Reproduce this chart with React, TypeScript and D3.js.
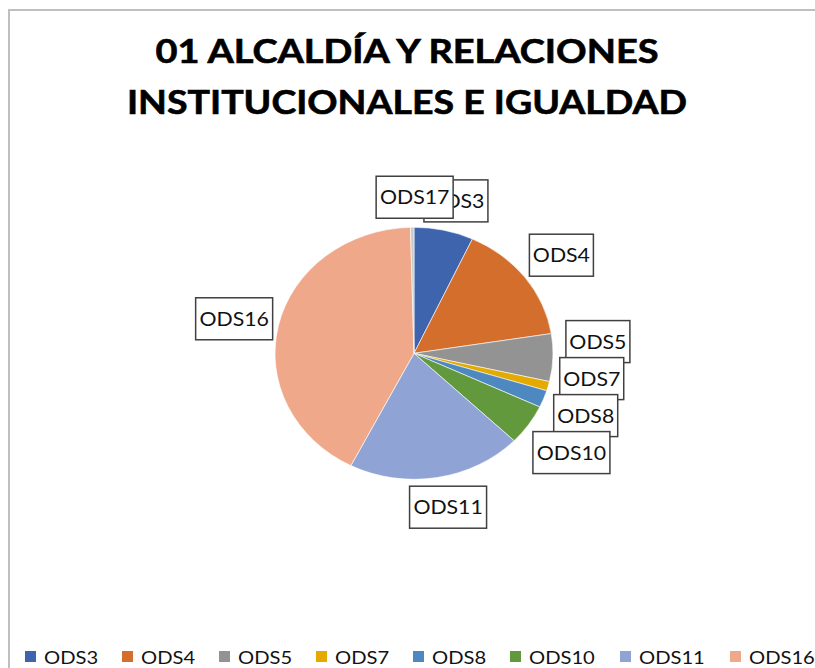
import * as d3 from 'd3';

const categories = ['ODS3', 'ODS4', 'ODS5', 'ODS7', 'ODS8', 'ODS10', 'ODS11', 'ODS16', 'ODS17'];
const shares = [6.9, 15.6, 6.1, 1.2, 2.2, 5.2, 20.3, 42.1, 0.4];
const sliceColors = ['#3D64AD', '#D46E2C', '#939393', '#E4AA00', '#4E88C0', '#63993D', '#8FA4D4', '#F0A88A', '#C9C9C9'];
const titleLines = ['01 ALCALDÍA Y RELACIONES', 'INSTITUCIONALES E IGUALDAD'];
const titleWidths = [503, 560];

const FONT = 'Lato, Calibri, "Open Sans", sans-serif';

export default function App() {
  const width = 815;
  const height = 668;
  const cx = 414;
  const cy = 353.3;
  const rx = 139;
  const ry = 126;
  const squash = ry / rx;
  const stretch = 1.12; // reference text is drawn a little wide

  const pie = d3
    .pie<number>()
    .sort(null)
    .value((d) => d)
    .startAngle(0)
    .endAngle(2 * Math.PI);
  const arcs = pie(shares);
  const arc = d3.arc<d3.PieArcDatum<number>>().innerRadius(0).outerRadius(rx);

  // data labels: outside end, boxes pushed apart on the right side
  const gap = 10;
  const boxH = 42;
  const labels = arcs.map((a, i) => {
    const m = (a.startAngle + a.endAngle) / 2;
    const s = Math.sin(m);
    const c = Math.cos(m);
    const name = categories[i];
    const w = 12 + 13 * name.length;
    const ax = cx + (rx + gap) * s;
    const ay = cy - (ry + gap * squash) * c;
    return { name, w, s, x: ax + (s * w) / 2 + 3, y: ay - (c * boxH) / 2 };
  });
  const right = labels.filter((l) => l.s > 0.5).sort((a, b) => a.y - b.y);
  const minGap = 37;
  for (let k = 0; k < 300; k++) {
    for (let i = 0; i < right.length - 1; i++) {
      const diff = right[i + 1].y - right[i].y;
      if (diff < minGap) {
        const d = (minGap - diff) / 2;
        right[i].y -= d;
        right[i + 1].y += d;
      }
    }
  }
  right.forEach((l) => (l.y -= 4));

  // legend layout, items that do not fit the width are dropped
  let lx = 25;
  const legend = categories
    .map((name, i) => {
      const item = { name, color: sliceColors[i], x: lx, w: 19 + 13.2 * name.length };
      lx += 45 + 13 * name.length;
      return item;
    })
    .filter((l) => l.x + l.w < width + 4);

  return (
    <svg
      width={width}
      height={height}
      style={{ position: 'absolute', left: 0, top: 0, background: '#fff' }}
      fontFamily={FONT}
    >
      <rect x={9} y={10} width={900} height={800} fill="#fff" stroke="#BFBFBF" strokeWidth={2} />

      {titleLines.map((t, i) => (
        <text
          key={t}
          x={407}
          y={63 + i * 51}
          textAnchor="middle"
          fontSize={32}
          fontWeight={700}
          fill="#000"
          stroke="#000"
          strokeWidth={0.6}
          textLength={titleWidths[i]}
          lengthAdjust="spacingAndGlyphs"
        >
          {t}
        </text>
      ))}

      <g transform={`translate(${cx},${cy}) scale(1,${squash})`}>
        {arcs.map((a, i) => (
          <path
            key={categories[i]}
            d={arc(a) ?? ''}
            fill={sliceColors[i]}
            stroke="#fff"
            strokeWidth={0.6}
            vectorEffect="non-scaling-stroke"
          />
        ))}
      </g>

      {labels.map((l) => (
        <g key={l.name} transform={`translate(${l.x},${l.y})`}>
          <rect x={-l.w / 2} y={-boxH / 2} width={l.w} height={boxH} fill="#fff" stroke="#404040" strokeWidth={1.5} />
          <text x={0} y={7} textAnchor="middle" fontSize={19} fill="#111" transform={`scale(${stretch},1)`}>
            {l.name}
          </text>
        </g>
      ))}

      {legend.map((l) => (
        <g key={l.name} transform={`translate(${l.x},651)`}>
          <rect x={0} y={0} width={11} height={11} fill={l.color} />
          <text x={19 / stretch} y={12.5} fontSize={18} fill="#111" transform={`scale(${stretch},1)`}>
            {l.name}
          </text>
        </g>
      ))}
    </svg>
  );
}
